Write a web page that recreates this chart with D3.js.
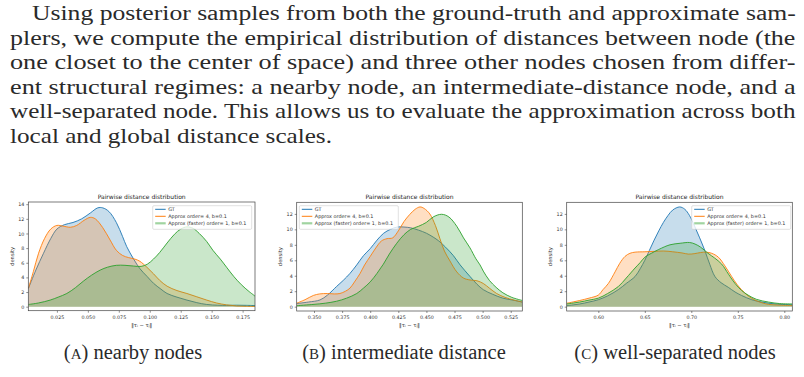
<!DOCTYPE html>
<html>
<head>
<meta charset="utf-8">
<script src="https://cdn.jsdelivr.net/npm/d3@7"></script>
<style>
  body { margin: 0; background: #fff; }
  svg { display: block; }
  .tick text { font-family: "DejaVu Sans", sans-serif; font-size: 4.8px; fill: #333; }
  .lbl { font-family: "DejaVu Sans", sans-serif; font-size: 5.2px; fill: #333; }
  .ttl { font-family: "DejaVu Sans", sans-serif; font-size: 6px; fill: #222; }
  .leg { font-family: "DejaVu Sans", sans-serif; font-size: 4.9px; fill: #333; }
</style>
</head>
<body>
<script>
//paragraph lines (justified like the LaTeX source)
const paraLines = [
  "Using posterior samples from both the ground-truth and approximate sam-",
  "plers, we compute the empirical distribution of distances between node (the",
  "one closet to the center of space) and three other nodes chosen from differ-",
  "ent structural regimes: a nearby node, an intermediate-distance node, and a",
  "well-separated node. This allows us to evaluate the approximation across both",
  "local and global distance scales."
]
const captions = [["A", "nearby nodes"], ["B", "intermediate distance"], ["C", "well-separated nodes"]]
const seriesNames = ["GT", "Approx order= 4, b=0.1", "Approx (faster) order= 1, b=0.1"]

//ticks
const xTicksA = [0.025, 0.050, 0.075, 0.100, 0.125, 0.150, 0.175]
const xTicksB = [0.350, 0.375, 0.400, 0.425, 0.450, 0.475, 0.500, 0.525]
const xTicksC = [0.60, 0.65, 0.70, 0.75, 0.80]
const yTicksA = [0, 2, 4, 6, 8, 10, 12, 14]
const yTicksBC = [0, 2, 4, 6, 8, 10, 12]

//(A) nearby nodes: [distance, density]
const aGT = [[0.002,2.5],[0.008,5.0],[0.0142,7.3],[0.02,9.3],[0.025,10.6],[0.031,11.2],[0.038,11.5],[0.045,12.0],[0.052,12.8],[0.058,13.5],[0.062,13.5],[0.067,13.0],[0.073,11.5],[0.078,9.6],[0.0814,8.2],[0.087,6.5],[0.092,5.2],[0.098,4.1],[0.103,3.2],[0.109,2.4],[0.114,1.8],[0.122,1.3],[0.13,0.9],[0.138,0.55],[0.146,0.3],[0.155,0.2],[0.162,0.18],[0.17,0.2],[0.178,0.18],[0.185,0.15]]
const aOrd4 = [[0.002,2.5],[0.006,4.8],[0.0102,7.3],[0.015,9.3],[0.02,10.6],[0.025,11.1],[0.03,11.0],[0.036,10.85],[0.041,11.1],[0.047,11.8],[0.052,12.2],[0.056,12.0],[0.062,10.8],[0.068,9.1],[0.073,7.7],[0.078,7.0],[0.083,6.7],[0.088,6.5],[0.092,6.2],[0.0976,5.4],[0.103,4.5],[0.108,3.6],[0.114,2.8],[0.122,2.2],[0.13,1.8],[0.138,1.35],[0.146,0.9],[0.154,0.5],[0.162,0.25],[0.17,0.1],[0.178,0.05],[0.185,0.03]]
const aOrd1 = [[0.002,0.3],[0.01,0.5],[0.0196,0.9],[0.026,1.3],[0.033,1.8],[0.04,2.6],[0.0465,3.5],[0.053,4.3],[0.06,5.0],[0.066,5.4],[0.073,5.65],[0.08,5.65],[0.087,5.55],[0.093,5.5],[0.098,5.8],[0.103,6.5],[0.108,7.4],[0.114,8.7],[0.12,9.9],[0.125,10.6],[0.13,10.9],[0.135,10.7],[0.14,10.0],[0.146,8.9],[0.151,7.7],[0.157,6.5],[0.162,5.4],[0.168,4.1],[0.174,3.0],[0.18,2.1],[0.185,1.45]]

//(B) intermediate distance
const bGT = [[0.3346,0.4],[0.345,0.6],[0.3553,0.87],[0.362,1.5],[0.37,2.6],[0.376,3.4],[0.382,4.3],[0.388,5.4],[0.394,6.6],[0.400,7.5],[0.406,8.6],[0.412,9.5],[0.418,10.0],[0.424,10.3],[0.430,10.3],[0.436,10.2],[0.443,9.9],[0.450,9.5],[0.456,9.0],[0.461,8.5],[0.467,7.7],[0.474,6.6],[0.480,5.4],[0.4888,3.9],[0.495,2.9],[0.5006,2.2],[0.509,1.6],[0.518,1.1],[0.527,0.85],[0.5353,0.6]]
const bOrd4 = [[0.3346,0.45],[0.342,0.9],[0.3494,1.45],[0.355,1.65],[0.362,1.7],[0.368,1.65],[0.373,1.7],[0.378,2.0],[0.382,2.4],[0.386,3.2],[0.391,4.3],[0.395,5.4],[0.400,6.5],[0.405,7.6],[0.410,8.5],[0.415,8.8],[0.420,8.9],[0.425,9.8],[0.430,11.0],[0.435,11.9],[0.440,12.6],[0.4443,12.9],[0.448,12.7],[0.453,12.0],[0.458,10.5],[0.462,8.8],[0.466,7.2],[0.471,5.9],[0.477,4.5],[0.483,3.7],[0.4888,3.45],[0.495,3.35],[0.5006,3.0],[0.506,2.4],[0.5125,1.7],[0.52,1.2],[0.528,0.85],[0.5353,0.6]]
const bOrd1 = [[0.3346,0.13],[0.35,0.3],[0.36,0.45],[0.370,0.7],[0.379,1.1],[0.388,1.7],[0.394,2.4],[0.400,3.2],[0.406,4.3],[0.4117,5.5],[0.417,6.8],[0.4236,8.2],[0.430,9.3],[0.436,10.0],[0.443,10.4],[0.450,10.9],[0.456,11.6],[0.4635,11.95],[0.470,11.6],[0.477,10.4],[0.483,8.9],[0.4888,7.6],[0.494,6.2],[0.4977,5.4],[0.5006,4.6],[0.506,3.4],[0.512,2.5],[0.518,1.8],[0.526,1.2],[0.5353,0.8]]

//(C) well-separated nodes
const cGT = [[0.566,0.13],[0.58,0.35],[0.590,0.6],[0.600,0.9],[0.61,1.4],[0.6215,2.2],[0.63,3.0],[0.6395,3.9],[0.645,4.9],[0.650,6.0],[0.655,7.3],[0.660,8.6],[0.665,9.8],[0.670,10.9],[0.675,11.8],[0.680,12.5],[0.6875,12.9],[0.693,12.6],[0.698,11.8],[0.7036,10.4],[0.709,8.9],[0.7144,7.3],[0.7198,5.5],[0.7254,3.9],[0.732,3.1],[0.7398,2.5],[0.747,1.9],[0.754,1.45],[0.765,0.9],[0.7757,0.6],[0.79,0.35],[0.8086,0.25]]
const cOrd4 = [[0.566,0.44],[0.58,0.8],[0.59,1.1],[0.600,1.5],[0.605,2.2],[0.6108,3.0],[0.618,4.5],[0.623,5.6],[0.6287,6.5],[0.634,6.9],[0.6395,7.05],[0.650,7.1],[0.660,7.15],[0.670,7.2],[0.680,7.1],[0.690,6.95],[0.6968,6.8],[0.703,6.85],[0.710,7.0],[0.716,7.05],[0.722,6.9],[0.7291,6.4],[0.736,5.3],[0.7434,3.9],[0.749,2.9],[0.754,2.2],[0.761,1.4],[0.7685,0.85],[0.776,0.5],[0.783,0.3],[0.795,0.2],[0.8086,0.15]]
const cOrd1 = [[0.566,0.35],[0.58,0.6],[0.590,0.85],[0.600,1.1],[0.61,1.7],[0.6215,2.6],[0.63,3.7],[0.6395,5.0],[0.645,5.7],[0.650,6.4],[0.657,6.9],[0.665,7.4],[0.677,8.0],[0.688,8.2],[0.6982,8.3],[0.704,8.1],[0.710,7.7],[0.718,6.9],[0.725,6.3],[0.7327,5.5],[0.74,4.2],[0.747,3.0],[0.754,2.1],[0.761,1.5],[0.77,0.95],[0.783,0.6],[0.795,0.4],[0.8086,0.35]]

const colors = ["#1f77b4", "#ff7f0e", "#2ca02c"]
const serif = "'Liberation Serif', 'Times New Roman', Times, serif"

//panel boxes in page pixels + domains
const panels = [
  { box: [28.3, 255, 202, 310.7], xDom: [0.0019, 0.185], yDom: [-0.55, 14.3], xTicks: xTicksA, yTicks: yTicksA, fmt: ".3f", series: [aGT, aOrd4, aOrd1], leg: [152.7, 205.7] },
  { box: [296.7, 522.3, 202.3, 311], xDom: [0.3346, 0.5353], yDom: [-0.56, 13.5], xTicks: xTicksB, yTicks: yTicksBC, fmt: ".3f", series: [bGT, bOrd4, bOrd1], leg: [299.3, 205.7] },
  { box: [566.7, 792.3, 202.3, 311], xDom: [0.566, 0.8086], yDom: [-0.56, 13.5], xTicks: xTicksC, yTicks: yTicksBC, fmt: ".2f", series: [cGT, cOrd4, cOrd1], leg: [691.7, 205.7] }
]

const W = 804, H = 377
const svg = d3.select("body").append("svg").attr("width", W).attr("height", H)

//paragraph: measure natural width then stretch horizontally to justify
const paraX = [32, 10, 10, 10, 10, 10]
const paraRight = 796
paraLines.forEach(function(t, i) {
  let g = svg.append("g")
  let el = g.append("text")
    .style("font-family", serif).style("font-size", "20px").attr("fill", "#2a2a2a")
    .attr("x", 0).attr("y", 0)
    .text(t)
  let natural = el.node().getComputedTextLength()
  let len = (i == paraLines.length - 1) ? 322 : paraRight - paraX[i]
  g.attr("transform", "translate(" + paraX[i] + "," + (20 + i * 24.6) + ") scale(" + (len / natural) + ",1)")
})

//panels
panels.forEach(function(p, pi) {
  let [l, r, t, b] = p.box
  let x = d3.scaleLinear().domain(p.xDom).range([l, r])
  let y = d3.scaleLinear().domain(p.yDom).range([b, t])

  let clipId = "clip" + pi
  svg.append("clipPath").attr("id", clipId)
    .append("rect").attr("x", l).attr("y", t).attr("width", r - l).attr("height", b - t)

  let g = svg.append("g").attr("clip-path", "url(#" + clipId + ")")
  let area = d3.area().x(d => x(d[0])).y0(y(0)).y1(d => y(d[1])).curve(d3.curveCatmullRom)
  let line = d3.line().x(d => x(d[0])).y(d => y(d[1])).curve(d3.curveCatmullRom)

  p.series.forEach(function(s, si) {
    g.append("path").attr("d", area(s)).attr("fill", colors[si]).attr("fill-opacity", 0.25)
    g.append("path").attr("d", line(s)).attr("fill", "none").attr("stroke", colors[si]).attr("stroke-width", 0.9)
  })

  //axes
  svg.append("g").attr("transform", "translate(0," + b + ")")
    .call(d3.axisBottom(x).tickValues(p.xTicks).tickFormat(d3.format(p.fmt)).tickSize(2).tickPadding(2.5))
  svg.append("g").attr("transform", "translate(" + l + ",0)")
    .call(d3.axisLeft(y).tickValues(p.yTicks).tickSize(2).tickPadding(2))
  svg.selectAll(".domain").remove()
  svg.selectAll(".tick line").attr("stroke", "#444").attr("stroke-width", 0.6)

  //frame
  svg.append("rect").attr("x", l).attr("y", t).attr("width", r - l).attr("height", b - t)
    .attr("fill", "none").attr("stroke", "#444").attr("stroke-width", 0.7)

  //title and labels
  svg.append("text").attr("class", "ttl").attr("x", (l + r) / 2).attr("y", t - 3.5)
    .attr("text-anchor", "middle").text("Pairwise distance distribution")
  svg.append("text").attr("class", "lbl").attr("x", (l + r) / 2).attr("y", b + 16)
    .attr("text-anchor", "middle").text("\u2016\u03c4\u1d62 \u2212 \u03c4\u2c7c\u2016")
  svg.append("text").attr("class", "lbl")
    .attr("transform", "translate(" + (l - 14.5) + "," + ((t + b) / 2) + ") rotate(-90)")
    .attr("text-anchor", "middle").text("density")

  //legend
  let [lx, ly] = p.leg
  let lg = svg.append("g").attr("transform", "translate(" + lx + "," + ly + ")")
  lg.append("rect").attr("width", 99).attr("height", 23.6).attr("rx", 1.2)
    .attr("fill", "#fff").attr("fill-opacity", 0.8).attr("stroke", "#ccc").attr("stroke-width", 0.6)
  seriesNames.forEach(function(n, si) {
    let yy = 3.6 + si * 7
    lg.append("line").attr("x1", 2.5).attr("x2", 13).attr("y1", yy).attr("y2", yy)
      .attr("stroke", colors[si]).attr("stroke-width", si == 2 ? 2.2 : 1).attr("stroke-opacity", si == 2 ? 0.45 : 1)
    lg.append("text").attr("class", "leg").attr("x", 15.5).attr("y", yy + 1.7).text(n)
  })
})

//captions
const capCenters = [133, 404, 675]
captions.forEach(function(c, i) {
  let t = svg.append("text").style("font-family", serif).style("font-size", "20.5px").attr("fill", "#2a2a2a")
    .attr("x", capCenters[i]).attr("y", 359).attr("text-anchor", "middle")
  t.append("tspan").text("(")
  t.append("tspan").style("font-size", "15px").text(c[0])
  t.append("tspan").text(") " + c[1])
})
</script>
</body>
</html>
